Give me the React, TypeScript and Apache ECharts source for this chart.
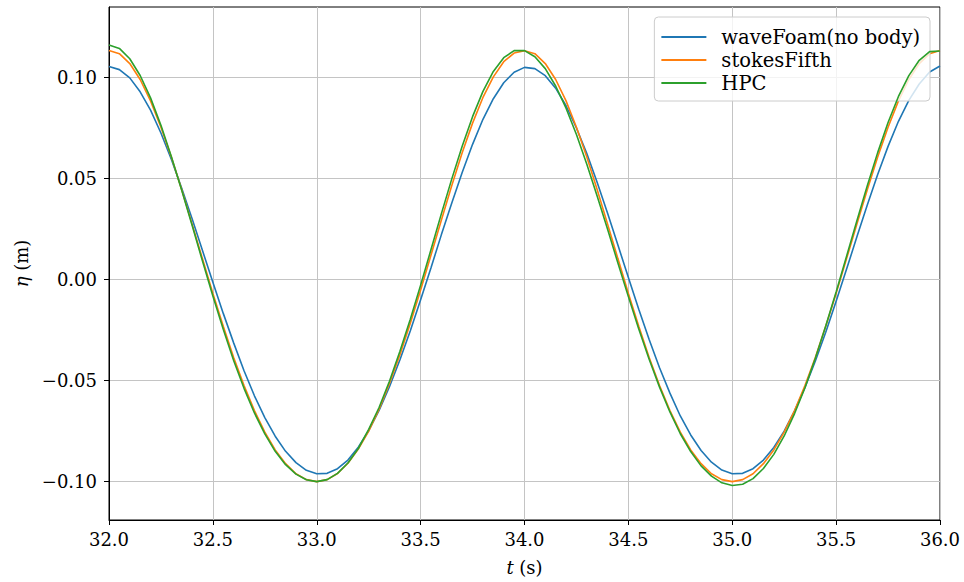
import React, { useEffect, useRef } from 'react';
import * as echarts from 'echarts';

// Sampling of the time series (s)
const startTime = 32.0;
const timeStep = 0.05;

// Surface elevation eta (m), sampled every 0.05 s from 32.00 s to 36.00 s
const waveFoam = [
  0.1055, 0.1040, 0.0999, 0.0930, 0.0839, 0.0726, 0.0596, 0.0453, 0.0301, 0.0144,
  -0.0013, -0.0167, -0.0313, -0.0451, -0.0575, -0.0683, -0.0775, -0.0850, -0.0906, -0.0944,
  -0.0961,
  -0.0959, -0.0936, -0.0893, -0.0830, -0.0748, -0.0647, -0.0530, -0.0398, -0.0254, -0.0100,
  0.0059, 0.0223, 0.0379, 0.0531, 0.0670, 0.0794, 0.0896, 0.0975, 0.1027, 0.1051,
  0.1045, 0.1010, 0.0948, 0.0861, 0.0751, 0.0624, 0.0481, 0.0329, 0.0170, 0.0011,
  -0.0146, -0.0296, -0.0436, -0.0562, -0.0675, -0.0769, -0.0846, -0.0904, -0.0943, -0.0961,
  -0.0959, -0.0936, -0.0893, -0.0831, -0.0750, -0.0650, -0.0534, -0.0403, -0.0260, -0.0107,
  0.0051, 0.0212, 0.0370, 0.0521, 0.0660, 0.0784, 0.0888, 0.0969, 0.1028, 0.1058,
];

const stokesFifth = [
  0.1135, 0.1119, 0.1070, 0.0991, 0.0885, 0.0755, 0.0607, 0.0445, 0.0275, 0.0103,
  -0.0068, -0.0231, -0.0385, -0.0524, -0.0648, -0.0755, -0.0843, -0.0911, -0.0961, -0.0990,
  -0.1000,
  -0.0990, -0.0960, -0.0909, -0.0839, -0.0750, -0.0641, -0.0514, -0.0373, -0.0217, -0.0051,
  0.0122, 0.0295, 0.0466, 0.0628, 0.0775, 0.0902, 0.1004, 0.1079, 0.1122, 0.1133,
  0.1119, 0.1070, 0.0991, 0.0885, 0.0755, 0.0607, 0.0445, 0.0275, 0.0103, -0.0068,
  -0.0231, -0.0385, -0.0524, -0.0648, -0.0755, -0.0843, -0.0911, -0.0961, -0.0990, -0.1000,
  -0.0990, -0.0961, -0.0911, -0.0843, -0.0755, -0.0648, -0.0524, -0.0385, -0.0231, -0.0068,
  0.0103, 0.0275, 0.0445, 0.0607, 0.0755, 0.0885, 0.0991, 0.1070, 0.1119, 0.1135,
];

const hpc = [
  0.1162, 0.1145, 0.1094, 0.1011, 0.0900, 0.0764, 0.0610, 0.0443, 0.0269, 0.0092,
  -0.0081, -0.0246, -0.0400, -0.0538, -0.0660, -0.0764, -0.0850, -0.0916, -0.0963, -0.0991,
  -0.1000,
  -0.0990, -0.0959, -0.0908, -0.0836, -0.0741, -0.0633, -0.0503, -0.0356, -0.0197, -0.0027,
  0.0149, 0.0327, 0.0499, 0.0660, 0.0807, 0.0932, 0.1031, 0.1099, 0.1134, 0.1134,
  0.1104, 0.1045, 0.0959, 0.0849, 0.0719, 0.0571, 0.0413, 0.0250, 0.0081, -0.0084,
  -0.0244, -0.0394, -0.0532, -0.0655, -0.0763, -0.0851, -0.0922, -0.0973, -0.1006, -0.1019,
  -0.1013, -0.0985, -0.0935, -0.0865, -0.0774, -0.0663, -0.0535, -0.0389, -0.0229, -0.0061,
  0.0115, 0.0292, 0.0465, 0.0629, 0.0778, 0.0907, 0.1010, 0.1086, 0.1129, 0.1132,
];

const seriesNames = ['waveFoam(no body)', 'stokesFifth', 'HPC'];
const seriesColors = ['#1f77b4', '#ff7f0e', '#2ca02c'];
const yTickValues = [-0.1, -0.05, 0, 0.05, 0.1];
const xRange = [32.0, 36.0];
const yRange = [-0.119, 0.135];

const FONT = 'DejaVu Serif';

export default function App() {
  const ref = useRef<HTMLDivElement>(null);

  useEffect(() => {
    if (!ref.current) return;
    const chart = echarts.init(ref.current, null, { renderer: 'svg' });
    const times = waveFoam.map((_, i) => +(startTime + i * timeStep).toFixed(2));
    const allSeries = [waveFoam, stokesFifth, hpc];

    const fmtY = (v: number) => (v < 0 ? '\u2212' : '') + Math.abs(v).toFixed(2);

    chart.setOption({
      animation: false,
      backgroundColor: '#ffffff',
      textStyle: { fontFamily: FONT },
      grid: {
        left: 109,
        right: 24,
        top: 7,
        bottom: 62,
        show: true,
        borderColor: '#000000',
        borderWidth: 1,
        backgroundColor: 'transparent',
      },
      legend: {
        data: seriesNames,
        orient: 'vertical',
        right: 34,
        top: 17,
        icon: 'rect',
        itemWidth: 45,
        itemHeight: 2,
        itemGap: 3,
        padding: [10, 10, 8, 7],
        backgroundColor: 'rgba(255,255,255,0.8)',
        borderColor: '#cccccc',
        borderWidth: 1,
        borderRadius: 4,
        textStyle: {
          fontFamily: FONT,
          fontSize: 19.5,
          color: '#000000',
          lineHeight: 19,
          padding: [0, 0, 0, 10],
        },
      },
      xAxis: {
        type: 'value',
        min: xRange[0],
        max: xRange[1],
        interval: 0.5,
        name: '{i|t} (s)',
        nameLocation: 'middle',
        nameGap: 38,
        nameTextStyle: {
          fontFamily: FONT,
          fontSize: 18,
          color: '#000',
          rich: { i: { fontFamily: FONT, fontStyle: 'italic', fontSize: 18, color: '#000' } },
        },
        axisLine: { show: true, onZero: false, lineStyle: { color: '#000', width: 1 } },
        axisTick: { show: true, length: 5, lineStyle: { color: '#000', width: 1 } },
        axisLabel: {
          fontFamily: FONT,
          fontSize: 18,
          color: '#000',
          margin: 10,
          formatter: (v: number) => v.toFixed(1),
        },
        splitLine: { show: true, lineStyle: { color: '#c4c4c4', width: 1 } },
      },
      yAxis: {
        type: 'value',
        min: yRange[0],
        max: yRange[1],
        splitNumber: 5,
        name: '{i|\u03b7} (m)',
        nameLocation: 'middle',
        nameGap: 67,
        nameRotate: 90,
        nameTextStyle: {
          fontFamily: FONT,
          fontSize: 18,
          color: '#000',
          rich: { i: { fontFamily: FONT, fontStyle: 'italic', fontSize: 18, color: '#000' } },
        },
        axisLine: { show: true, onZero: false, lineStyle: { color: '#000', width: 1 } },
        axisTick: {
          show: true,
          length: 5,
          customValues: yTickValues,
          lineStyle: { color: '#000', width: 1 },
        },
        axisLabel: {
          fontFamily: FONT,
          fontSize: 18,
          color: '#000',
          margin: 12,
          customValues: yTickValues,
          formatter: fmtY,
        },
        splitLine: { show: true, lineStyle: { color: '#c4c4c4', width: 1 } },
      },
      series: allSeries.map((vals, si) => ({
        name: seriesNames[si],
        type: 'line',
        data: vals.map((v, i) => [times[i], v]),
        showSymbol: false,
        symbol: 'none',
        clip: true,
        lineStyle: { color: seriesColors[si], width: 1.6 },
        itemStyle: { color: seriesColors[si] },
        z: 2 + si,
      })),
    });

    return () => chart.dispose();
  }, []);

  return (
    <div
      ref={ref}
      style={{ position: 'fixed', left: 0, top: 0, width: 964, height: 582 }}
    />
  );
}
